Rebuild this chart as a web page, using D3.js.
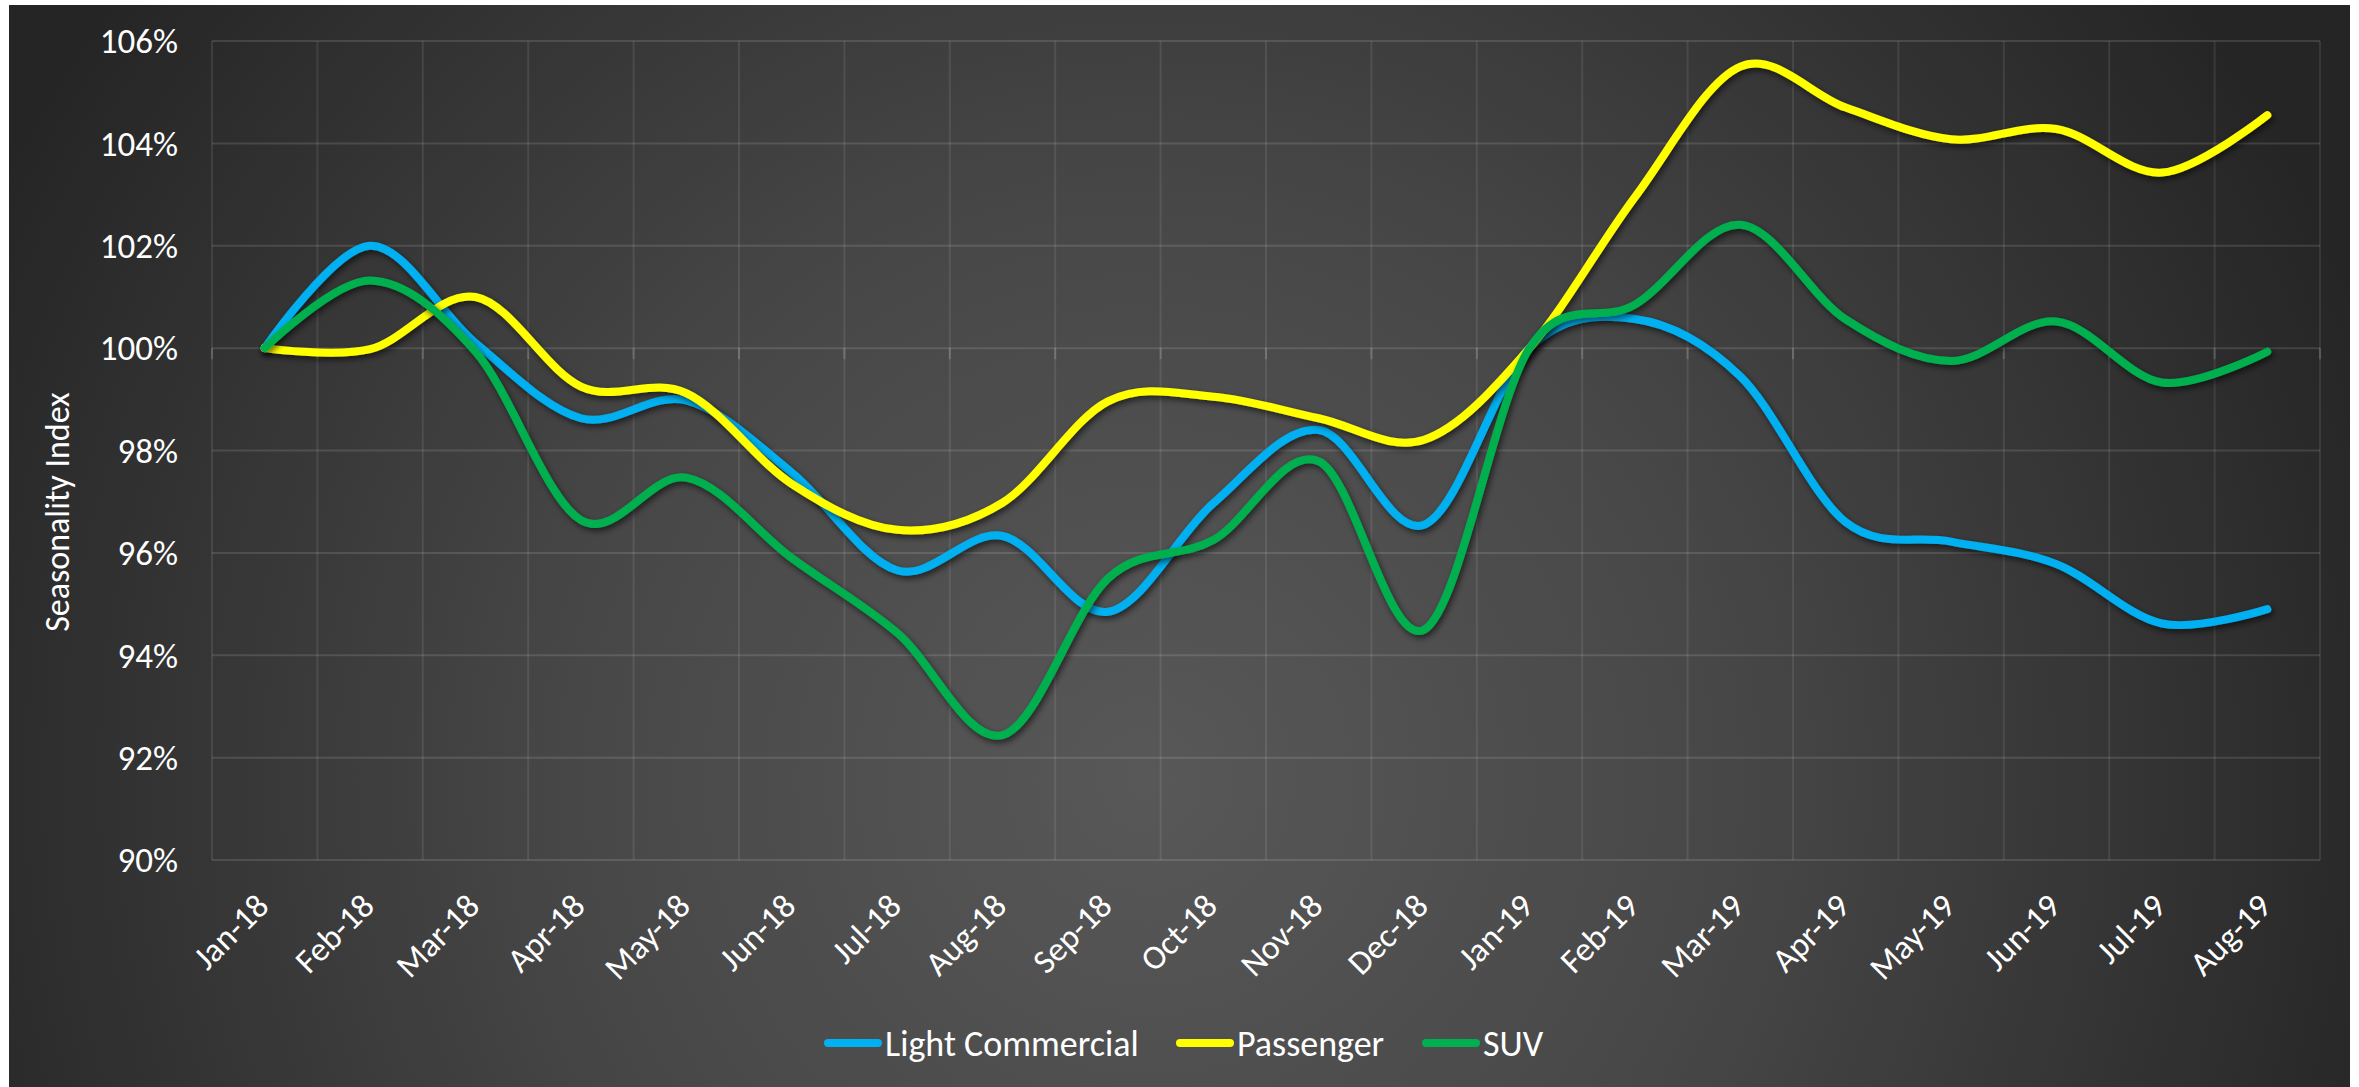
<!DOCTYPE html>
<html>
<head>
<meta charset="utf-8">
<script src="https://cdn.jsdelivr.net/npm/d3@7"></script>
<style>
  html, body { margin: 0; padding: 0; background: #ffffff; }
  text { font-family: Carlito, Calibri, Lato, sans-serif; fill: #ffffff; }
</style>
</head>
<body>
<div id="my_dataviz"></div>
<script>
var months = ["Jan-18","Feb-18","Mar-18","Apr-18","May-18","Jun-18","Jul-18","Aug-18","Sep-18","Oct-18",
              "Nov-18","Dec-18","Jan-19","Feb-19","Mar-19","Apr-19","May-19","Jun-19","Jul-19","Aug-19"]
var lightCommercial = [100, 102.0, 100.1, 98.63, 98.98, 97.57, 95.66, 96.33, 94.85, 96.97,
                       98.4, 96.55, 100, 100.57, 99.45, 96.6, 96.22, 95.78, 94.62, 94.9]
var passenger = [100, 99.98, 101.0, 99.25, 99.12, 97.35, 96.45, 96.98, 98.96, 99.05,
                 98.63, 98.21, 100, 102.95, 105.5, 104.7, 104.08, 104.28, 103.43, 104.55]
var suv = [100, 101.32, 99.93, 96.64, 97.47, 95.9, 94.44, 92.44, 95.5, 96.25,
           97.79, 94.5, 100, 100.85, 102.41, 100.56, 99.75, 100.52, 99.33, 99.93]
var yTicks = [90, 92, 94, 96, 98, 100, 102, 104, 106]
var seriesNames = ["Light Commercial", "Passenger", "SUV"]
var seriesColors = ["#00B0F0", "#FFFF00", "#00B050"]

var series = [lightCommercial, passenger, suv].map(function(vals, i) {
  return {name: seriesNames[i], color: seriesColors[i], values: vals}
})

var W = 2359, H = 1087
var plot = {left: 212, right: 2320, top: 41, bottom: 860}

var svg = d3.select("#my_dataviz")
  .append("svg")
    .attr("width", W)
    .attr("height", H)
    .style("display", "block")

var defs = svg.append("defs")
var grad = defs.append("radialGradient")
    .attr("id", "bg")
    .attr("gradientUnits", "userSpaceOnUse")
    .attr("cx", 1150).attr("cy", 780).attr("r", 1300)
grad.append("stop").attr("offset", "0%").attr("stop-color", "#585858")
grad.append("stop").attr("offset", "45%").attr("stop-color", "#474747")
grad.append("stop").attr("offset", "100%").attr("stop-color", "#252525")

var shadow = defs.append("filter")
    .attr("id", "shadow")
    .attr("x", "-5%").attr("y", "-10%").attr("width", "110%").attr("height", "120%")
shadow.append("feDropShadow")
    .attr("dx", 2).attr("dy", 3).attr("stdDeviation", 3)
    .attr("flood-color", "#000").attr("flood-opacity", 0.6)

// dark chart area
svg.append("rect")
    .attr("x", 9).attr("y", 5)
    .attr("width", 2341).attr("height", H - 5)
    .attr("fill", "url(#bg)")

// scales
var x = d3.scaleBand()
  .domain(months)
  .range([plot.left, plot.right])
var y = d3.scaleLinear()
  .domain([90, 106])
  .range([plot.bottom, plot.top])

var grid = svg.append("g")
// horizontal grid
grid.selectAll("hline")
  .data(yTicks)
  .enter()
  .append("line")
    .attr("x1", plot.left).attr("x2", plot.right)
    .attr("y1", function(d) { return y(d) }).attr("y2", function(d) { return y(d) })
    .attr("stroke", "rgba(255,255,255,0.12)")
    .attr("stroke-width", 2)
// vertical grid at band edges
var edges = months.map(function(m) { return x(m) }).concat([plot.right])
grid.selectAll("vline")
  .data(edges)
  .enter()
  .append("line")
    .attr("x1", function(d) { return d }).attr("x2", function(d) { return d })
    .attr("y1", plot.top).attr("y2", plot.bottom)
    .attr("stroke", "rgba(255,255,255,0.09)")
    .attr("stroke-width", 2)
// category axis crosses at 100% with small tick marks
grid.selectAll("tick100")
  .data(edges)
  .enter()
  .append("line")
    .attr("x1", function(d) { return d }).attr("x2", function(d) { return d })
    .attr("y1", y(100)).attr("y2", y(100) + 11)
    .attr("stroke", "rgba(255,255,255,0.16)")
    .attr("stroke-width", 2)

// Y axis labels
svg.append("g")
  .selectAll("ylab")
  .data(yTicks)
  .enter()
  .append("text")
    .attr("x", 178)
    .attr("y", function(d) { return y(d) })
    .attr("dy", "0.35em")
    .attr("text-anchor", "end")
    .style("font-size", "35px")
    .text(function(d) { return d + "%" })

// Y axis title
svg.append("text")
    .attr("transform", "translate(69,512) rotate(-90)")
    .attr("text-anchor", "middle")
    .style("font-size", "34px")
    .text("Seasonality Index")

// X axis labels
svg.append("g")
  .selectAll("xlab")
  .data(months)
  .enter()
  .append("text")
    .attr("transform", function(d) {
      return "translate(" + (x(d) + x.bandwidth() / 2 + 6) + ",908) rotate(-45)"
    })
    .attr("text-anchor", "end")
    .style("font-size", "34px")
    .text(function(d) { return d })

// lines
var line = d3.line()
  .x(function(d, i) { return x(months[i]) + x.bandwidth() / 2 })
  .y(function(d) { return y(d) })
  .curve(d3.curveCatmullRom.alpha(0))

svg.append("g")
  .selectAll("series")
  .data(series)
  .enter()
  .append("path")
    .attr("d", function(d) { return line(d.values) })
    .attr("fill", "none")
    .attr("stroke", function(d) { return d.color })
    .attr("stroke-width", 8)
    .attr("stroke-linecap", "round")
    .attr("stroke-linejoin", "round")
    .attr("filter", "url(#shadow)")

// legend
var legendX = [824, 1176, 1422]
var legend = svg.append("g")
  .selectAll("leg")
  .data(series)
  .enter()
  .append("g")
    .attr("transform", function(d, i) { return "translate(" + legendX[i] + ",1043)" })
legend.append("line")
    .attr("x1", 4).attr("x2", 54)
    .attr("y1", 0).attr("y2", 0)
    .attr("stroke", function(d) { return d.color })
    .attr("stroke-width", 8)
    .attr("stroke-linecap", "round")
legend.append("text")
    .attr("x", 61)
    .attr("y", 0)
    .attr("dy", "0.35em")
    .style("font-size", "36px")
    .text(function(d) { return d.name })
</script>
</body>
</html>
